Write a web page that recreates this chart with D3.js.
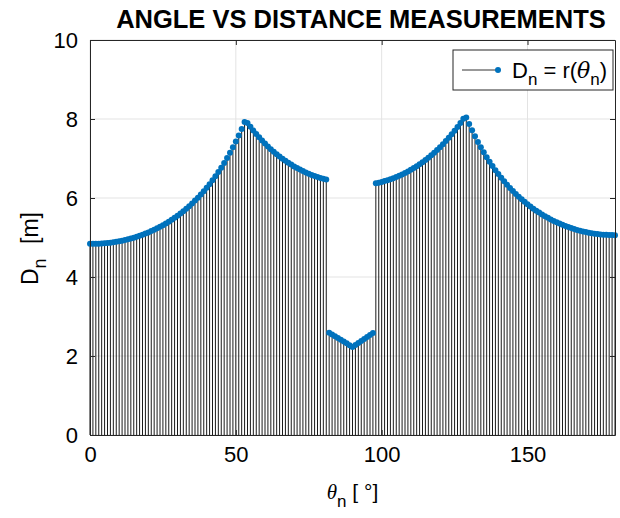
<!DOCTYPE html>
<html>
<head>
<meta charset="utf-8">
<script src="https://cdn.jsdelivr.net/npm/d3@7"></script>
<style>
  body { margin: 0; background: #fff; }
  text { font-family: "Liberation Sans", Arial, sans-serif; fill: #000; }
</style>
</head>
<body>
<svg id="chart"></svg>
<script>
const margin = { top: 40, right: 5, bottom: 83, left: 90 };
const width = 620 - margin.left - margin.right;
const height = 518 - margin.top - margin.bottom;

// scan angles in degrees
const angles = [
  0, 1, 2, 3, 4, 5, 6, 7, 8, 9, 10, 11, 12, 13, 14, 15, 16, 17, 18, 19,
  20, 21, 22, 23, 24, 25, 26, 27, 28, 29, 30, 31, 32, 33, 34, 35, 36, 37, 38, 39,
  40, 41, 42, 43, 44, 45, 46, 47, 48, 49, 50, 51, 52, 53, 54, 55, 56, 57, 58, 59,
  60, 61, 62, 63, 64, 65, 66, 67, 68, 69, 70, 71, 72, 73, 74, 75, 76, 77, 78, 79,
  80, 81, 82, 83, 84, 85, 86, 87, 88, 89, 90, 91, 92, 93, 94, 95, 96, 97, 98, 99,
  100, 101, 102, 103, 104, 105, 106, 107, 108, 109, 110, 111, 112, 113, 114, 115, 116, 117, 118, 119,
  120, 121, 122, 123, 124, 125, 126, 127, 128, 129, 130, 131, 132, 133, 134, 135, 136, 137, 138, 139,
  140, 141, 142, 143, 144, 145, 146, 147, 148, 149, 150, 151, 152, 153, 154, 155, 156, 157, 158, 159,
  160, 161, 162, 163, 164, 165, 166, 167, 168, 169, 170, 171, 172, 173, 174, 175, 176, 177, 178, 179,
  180
];

// measured distance in metres, one per angle
const distances = [
  4.840, 4.840, 4.841, 4.844, 4.848, 4.854, 4.861, 4.870, 4.880, 4.892,
  4.905, 4.920, 4.936, 4.954, 4.974, 4.996, 5.019, 5.044, 5.070, 5.099,
  5.129, 5.162, 5.196, 5.233, 5.271, 5.312, 5.355, 5.401, 5.449, 5.499,
  5.552, 5.608, 5.667, 5.729, 5.794, 5.862, 5.934, 6.009, 6.088, 6.171,
  6.259, 6.350, 6.447, 6.549, 6.656, 6.768, 6.887, 7.011, 7.143, 7.282,
  7.429, 7.585, 7.749, 7.923, 7.898, 7.801, 7.708, 7.619, 7.535, 7.455,
  7.379, 7.306, 7.237, 7.171, 7.109, 7.051, 6.995, 6.942, 6.892, 6.845,
  6.800, 6.759, 6.719, 6.682, 6.647, 6.615, 6.585, 6.558, 6.533, 6.509,
  6.488, 6.470, 2.590, 2.545, 2.500, 2.455, 2.410, 2.365, 2.320, 2.275,
  2.230, 2.280, 2.330, 2.380, 2.430, 2.480, 2.530, 2.580, 6.372, 6.389,
  6.407, 6.428, 6.451, 6.476, 6.503, 6.533, 6.564, 6.598, 6.635, 6.674,
  6.715, 6.759, 6.806, 6.855, 6.907, 6.962, 7.021, 7.082, 7.147, 7.215,
  7.286, 7.361, 7.441, 7.524, 7.611, 7.703, 7.800, 7.901, 8.008, 8.040,
  7.872, 7.713, 7.562, 7.419, 7.284, 7.156, 7.034, 6.919, 6.809, 6.705,
  6.605, 6.511, 6.421, 6.336, 6.255, 6.177, 6.103, 6.033, 5.967, 5.903,
  5.843, 5.785, 5.731, 5.679, 5.630, 5.583, 5.539, 5.497, 5.457, 5.420,
  5.385, 5.352, 5.320, 5.291, 5.264, 5.238, 5.215, 5.193, 5.173, 5.155,
  5.138, 5.123, 5.110, 5.098, 5.088, 5.079, 5.072, 5.067, 5.063, 5.061,
  5.060
];

const xTicks = [0, 50, 100, 150];
const yTicks = [0, 2, 4, 6, 8, 10];

const blue = "#0072bd";
const axisColor = "#262626";

const svg = d3
  .select("#chart")
  .attr("width", width + margin.left + margin.right)
  .attr("height", height + margin.top + margin.bottom);

const g = svg
  .append("g")
  .attr("transform", "translate(" + margin.left + "," + margin.top + ")");

const x = d3.scaleLinear().domain([0, 180]).range([0, width]);
const y = d3.scaleLinear().domain([0, 10]).range([height, 0]);

// grid
g.append("g")
  .selectAll("line")
  .data(xTicks)
  .join("line")
  .attr("x1", (d) => x(d))
  .attr("x2", (d) => x(d))
  .attr("y1", 0)
  .attr("y2", height)
  .attr("stroke", "#e3e3e3");

g.append("g")
  .selectAll("line")
  .data(yTicks)
  .join("line")
  .attr("x1", 0)
  .attr("x2", width)
  .attr("y1", (d) => y(d))
  .attr("y2", (d) => y(d))
  .attr("stroke", "#e3e3e3");

// stems
g.append("g")
  .selectAll("line")
  .data(angles)
  .join("line")
  .attr("x1", (d) => x(d))
  .attr("x2", (d) => x(d))
  .attr("y1", y(0))
  .attr("y2", (d, i) => y(distances[i]))
  .attr("stroke", "#000")
  .attr("stroke-width", 0.9);

// markers
g.append("g")
  .selectAll("circle")
  .data(angles)
  .join("circle")
  .attr("cx", (d) => x(d))
  .attr("cy", (d, i) => y(distances[i]))
  .attr("r", 3)
  .attr("fill", blue);

// axes, ticks inside, box on all four sides
const bottomAxis = g.append("g")
  .attr("transform", "translate(0," + height + ")")
  .call(d3.axisBottom(x).tickValues(xTicks).tickSizeInner(-5).tickSizeOuter(0).tickPadding(11));
const topAxis = g.append("g")
  .call(d3.axisTop(x).tickValues(xTicks).tickSizeInner(-5).tickSizeOuter(0).tickFormat(""));
const leftAxis = g.append("g")
  .call(d3.axisLeft(y).tickValues(yTicks).tickSizeInner(-5).tickSizeOuter(0).tickPadding(12));
const rightAxis = g.append("g")
  .attr("transform", "translate(" + width + ",0)")
  .call(d3.axisRight(y).tickValues(yTicks).tickSizeInner(-5).tickSizeOuter(0).tickFormat(""));

[bottomAxis, topAxis, leftAxis, rightAxis].forEach((a) => {
  a.select(".domain").attr("stroke", axisColor);
  a.selectAll(".tick line").attr("stroke", axisColor);
  a.selectAll(".tick text")
    .attr("font-family", "'Liberation Sans', Arial, sans-serif")
    .attr("font-size", 22)
    .attr("fill", "#000");
});
bottomAxis.selectAll(".tick text").attr("dy", "0.71em");
leftAxis.selectAll(".tick text").attr("dy", "0.36em");

// title
svg.append("text")
  .attr("x", 361)
  .attr("y", 28)
  .attr("text-anchor", "middle")
  .attr("font-size", 25.5)
  .attr("font-weight", "bold")
  .text("ANGLE VS DISTANCE MEASUREMENTS");

// x label
const xLabel = svg.append("text")
  .attr("x", margin.left + width / 2)
  .attr("y", 499)
  .attr("text-anchor", "middle")
  .attr("font-size", 21);
xLabel.append("tspan")
  .attr("font-family", "'Liberation Serif', 'DejaVu Serif', serif")
  .attr("font-style", "italic")
  .text("θ");
xLabel.append("tspan").attr("dy", 8).attr("font-size", 17).text("n");
xLabel.append("tspan").attr("dy", -8).text(" [ °]");

// y label
const yLabel = svg.append("text")
  .attr("transform", "translate(38,285) rotate(-90)")
  .attr("font-size", 23);
yLabel.append("tspan").text("D");
yLabel.append("tspan").attr("dy", 8).attr("font-size", 18).text("n");
yLabel.append("tspan").attr("dy", -8).attr("dx", 8).text(" [m]");

// legend
const legend = svg.append("g").attr("transform", "translate(453,50)");
legend.append("rect")
  .attr("width", 160)
  .attr("height", 40)
  .attr("fill", "#fff")
  .attr("stroke", axisColor);
legend.append("line")
  .attr("x1", 9)
  .attr("x2", 45)
  .attr("y1", 20)
  .attr("y2", 20)
  .attr("stroke", "#333");
legend.append("circle")
  .attr("cx", 45)
  .attr("cy", 20)
  .attr("r", 3)
  .attr("fill", blue);
const legText = legend.append("text")
  .attr("x", 59)
  .attr("y", 28)
  .attr("font-size", 22);
legText.append("tspan").text("D");
legText.append("tspan").attr("dy", 7).attr("font-size", 17).text("n");
legText.append("tspan").attr("dy", -7).text(" = r(");
legText.append("tspan")
  .attr("font-family", "'DejaVu Serif', 'Liberation Serif', serif")
  .attr("font-style", "italic")
  .text("θ");
legText.append("tspan").attr("dy", 7).attr("font-size", 17).text("n");
legText.append("tspan").attr("dy", -7).text(")");
</script>
</body>
</html>
